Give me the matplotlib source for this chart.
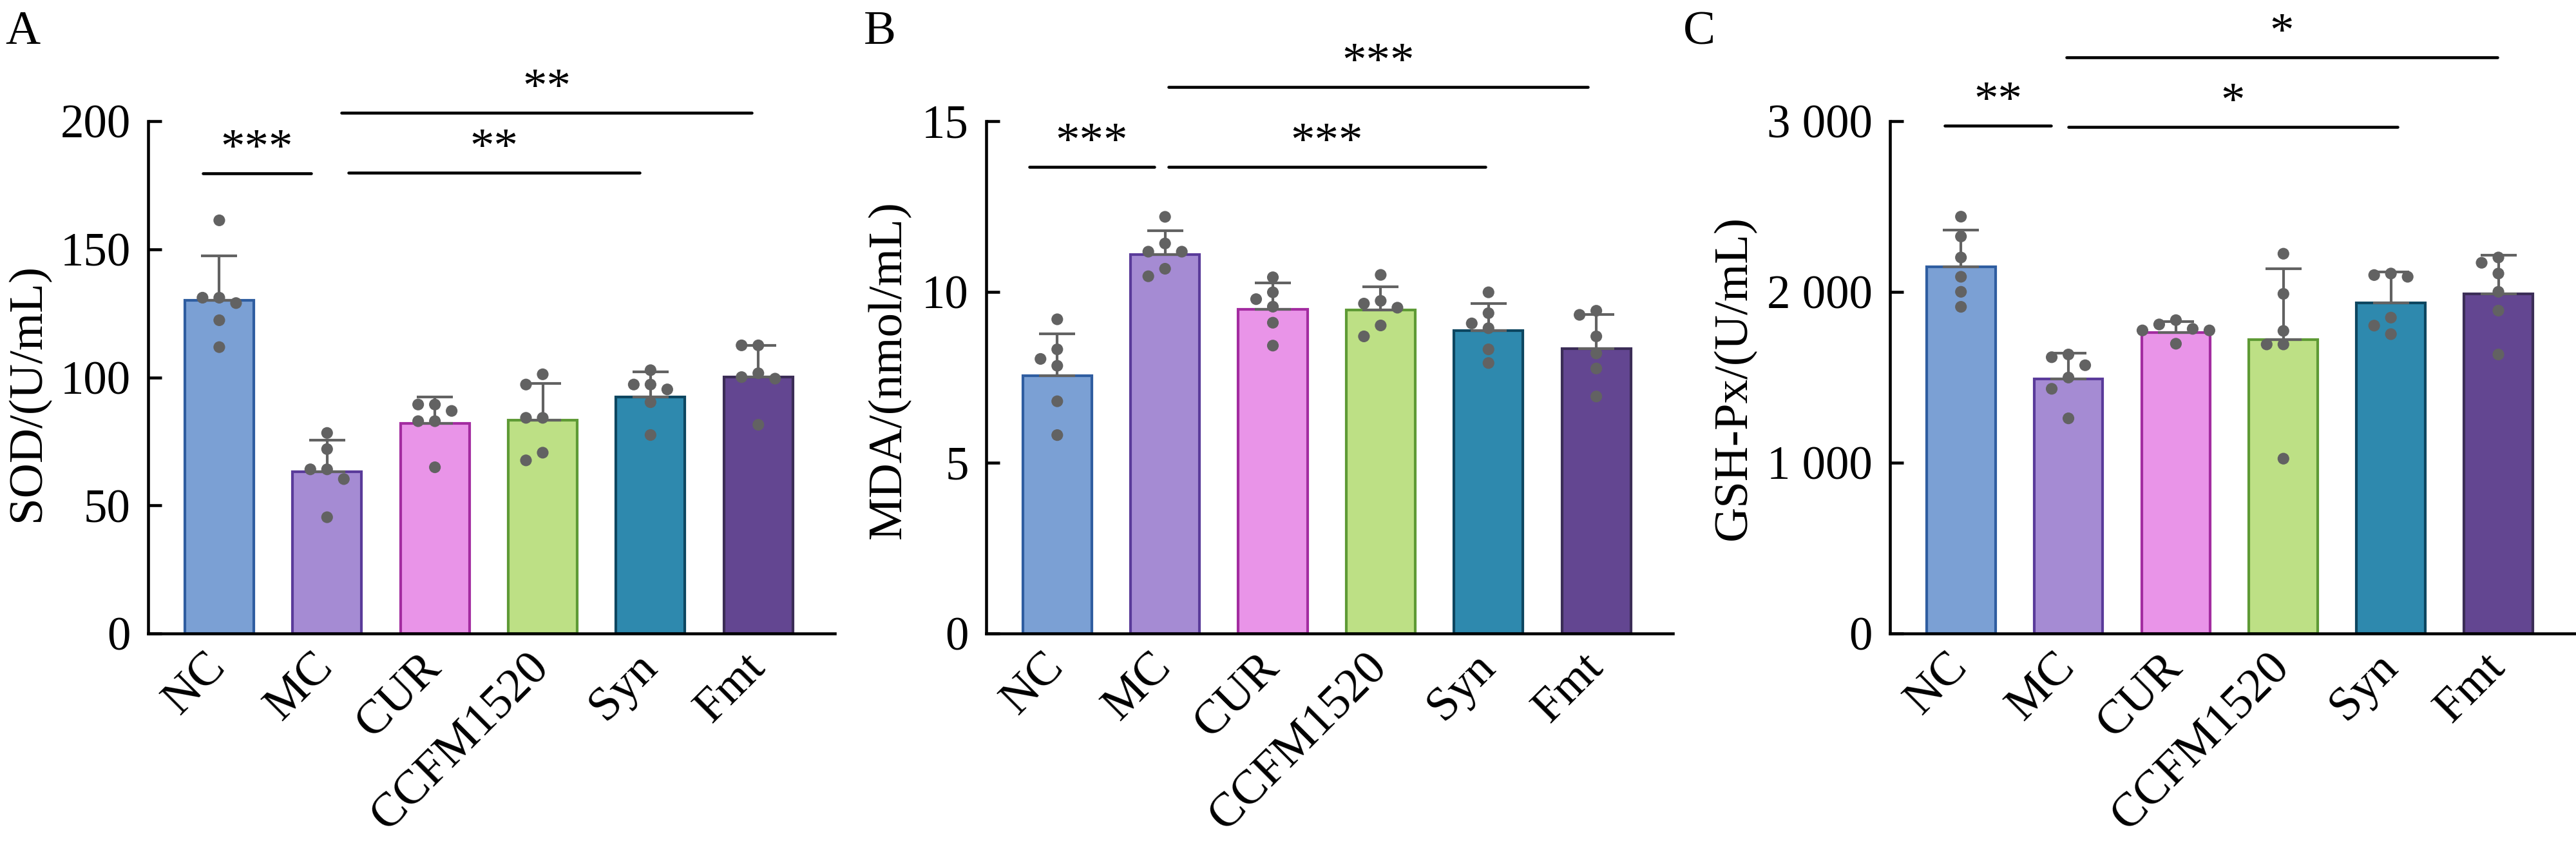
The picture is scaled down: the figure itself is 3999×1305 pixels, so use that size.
import numpy as np
import matplotlib
matplotlib.use('Agg')
import matplotlib.pyplot as plt
from matplotlib.ticker import FuncFormatter

plt.rcParams['font.family'] = ['Liberation Serif', 'DejaVu Serif']
plt.rcParams['axes.linewidth'] = 1.1

# grupos y colores
grupos = ['NC', 'MC', 'CUR', 'CCFM1520', 'Syn', 'Fmt']
relleno = ['#7ba0d4', '#a58bd3', '#e994e8', '#bde085', '#2e89ae', '#634691']
borde = ['#2f5da0', '#5a3b9a', '#a32ca0', '#5e9a35', '#0d4660', '#3b2d56']
gris = '#626262'

# A: SOD
sod_media = [130.0, 63.2, 82.0, 83.4, 92.4, 100.1]
sod_sd = [17.4, 12.2, 10.4, 14.2, 9.8, 12.4]
sod_puntos = [[161.3, 131.1, 131.1, 129.0, 122.3, 111.8],
              [78.3, 72.0, 64.1, 64.1, 60.3, 45.4],
              [89.4, 89.4, 86.9, 82.9, 82.9, 64.9],
              [101.2, 97.2, 84.2, 84.2, 70.6, 67.6],
              [102.8, 97.2, 97.2, 95.3, 90.3, 77.5],
              [112.5, 112.5, 101.6, 100.1, 99.5, 81.5]]

# B: MDA
mda_media = [7.54, 11.10, 9.49, 9.47, 8.87, 8.34]
mda_sd = [1.24, 0.70, 0.77, 0.68, 0.79, 1.01]
mda_puntos = [[9.20, 8.32, 8.04, 7.84, 6.80, 5.81],
              [12.20, 11.42, 11.18, 11.18, 10.68, 10.46],
              [10.43, 9.99, 9.79, 9.57, 9.10, 8.43],
              [10.50, 9.74, 9.66, 9.54, 9.02, 8.70],
              [9.99, 9.38, 9.08, 8.94, 8.32, 7.92],
              [9.45, 9.33, 8.70, 8.20, 7.76, 6.94]]

# C: GSH-Px
gsh_media = [2149, 1489, 1762, 1722, 1935, 1989]
gsh_sd = [213, 154, 66, 414, 182, 226]
gsh_puntos = [[2441, 2325, 2202, 2089, 2001, 1913],
              [1634, 1618, 1571, 1499, 1433, 1260],
              [1835, 1810, 1784, 1775, 1775, 1697],
              [2224, 1989, 1772, 1693, 1693, 1024],
              [2108, 2099, 2089, 1850, 1803, 1753],
              [2202, 2171, 2108, 2001, 1891, 1634]]

# comparaciones: (grupo i, grupo j, etiqueta, altura)
sig_sod = [(0, 1, '***', 179.6), (1, 4, '**', 179.8), (1, 5, '**', 203.3)]
sig_mda = [(0, 1, '***', 13.66), (1, 4, '***', 13.66), (1, 5, '***', 16.0)]
sig_gsh = [(0, 1, '**', 2975), (1, 4, '*', 2966), (1, 5, '*', 3374)]

abajo, alto = 0.2467, 0.6092
paneles = [
    dict(letra='A', media=sod_media, sd=sod_sd, puntos=sod_puntos, sig=sig_sod,
         ylabel='SOD/(U/mL)', ymax=200, paso=50, fmt=lambda v, p: f'{v:.0f}',
         rect=[0.0575, abajo, 0.2666, alto], lx=0.002, ly=0.47,
         extremos=[(-0.15, -0.15), (0.2, -0.1), (0.13, -0.06)]),
    dict(letra='B', media=mda_media, sd=mda_sd, puntos=mda_puntos, sig=sig_mda,
         ylabel='MDA/(nmol/mL)', ymax=15, paso=5, fmt=lambda v, p: f'{v:.0f}',
         rect=[0.3828, abajo, 0.2666, alto], lx=0.3353, ly=0.515,
         extremos=[(-0.26, -0.1), (0.03, -0.03), (0.03, -0.08)]),
    dict(letra='C', media=gsh_media, sd=gsh_sd, puntos=gsh_puntos, sig=sig_gsh,
         ylabel='GSH-Px/(U/mL)', ymax=3000, paso=1000,
         fmt=lambda v, p: f'{v:,.0f}'.replace(',', ' '),
         rect=[0.7337, abajo, 0.2658, alto], lx=0.6534, ly=0.5,
         extremos=[(-0.15, -0.16), (0.0, 0.06), (-0.02, -0.01)]),
]


def enjambre(valores, px_y, px_x, diam=18.0, paso=26.0):
    # reparte los puntos a lo ancho cuando se solapan (estilo beeswarm)
    orden = np.argsort(valores)[::-1]
    colocados = []
    desp = np.zeros(len(valores))
    cand = [0, -1, 1, -2, 2, -3, 3]
    for k in orden:
        y = valores[k] * px_y
        for c in cand:
            x = c * paso
            if all((x - xx) ** 2 + (y - yy) ** 2 >= diam ** 2 for xx, yy in colocados):
                break
        colocados.append((x, y))
        desp[k] = x / px_x
    return desp


fig = plt.figure(figsize=(13.33, 4.35), dpi=300)
W, H = 3999, 1305
xmin, xmax = -0.66, 5.71

for p in paneles:
    ax = fig.add_axes(p['rect'])
    x = np.arange(len(grupos))
    ax.bar(x, p['media'], width=0.64, color=relleno, edgecolor=borde,
           linewidth=1.0, zorder=2)
    ax.errorbar(x, p['media'], yerr=[np.zeros(6), p['sd']], fmt='none',
                ecolor=gris, elinewidth=1.0, capsize=6.8, capthick=1.0, zorder=3)
    px_y = p['rect'][3] * H / p['ymax']
    px_x = p['rect'][2] * W / (xmax - xmin)
    for i, pts in enumerate(p['puntos']):
        d = enjambre(np.array(pts, float), px_y, px_x)
        ax.scatter(i + d, pts, s=19, color=gris, edgecolors='none', zorder=4)

    ax.set_xlim(xmin, xmax)
    ax.set_ylim(0, p['ymax'])
    ax.set_yticks(np.arange(0, p['ymax'] + 1, p['paso']))
    ax.yaxis.set_major_formatter(FuncFormatter(p['fmt']))
    ax.set_xticks(x)
    ax.set_xticklabels(grupos, rotation=45, ha='right', va='center',
                       rotation_mode='anchor')
    ax.tick_params(axis='y', direction='in', length=5, width=1.1,
                   labelsize=17.5, pad=6.5)
    ax.tick_params(axis='x', length=0, labelsize=18, pad=10)
    ax.spines['top'].set_visible(False)
    ax.spines['right'].set_visible(False)
    ax.set_ylabel(p['ylabel'], fontsize=18, labelpad=4)
    ax.yaxis.label.set_y(p['ly'])

    for (i, j, txt, h), (a, b) in zip(p['sig'], p['extremos']):
        ax.plot([i + a, j + b], [h, h], color='black', lw=1.1,
                solid_capstyle='round', clip_on=False, zorder=5)
        ax.annotate(txt, xy=((i + a + j + b) / 2, h), xytext=(0, 0.5),
                    textcoords='offset points', ha='center', va='bottom',
                    fontsize=18, annotation_clip=False)

    fig.text(p['lx'], 0.987, p['letra'], fontsize=18, ha='left', va='top')

plt.savefig('out.png', dpi=300)
